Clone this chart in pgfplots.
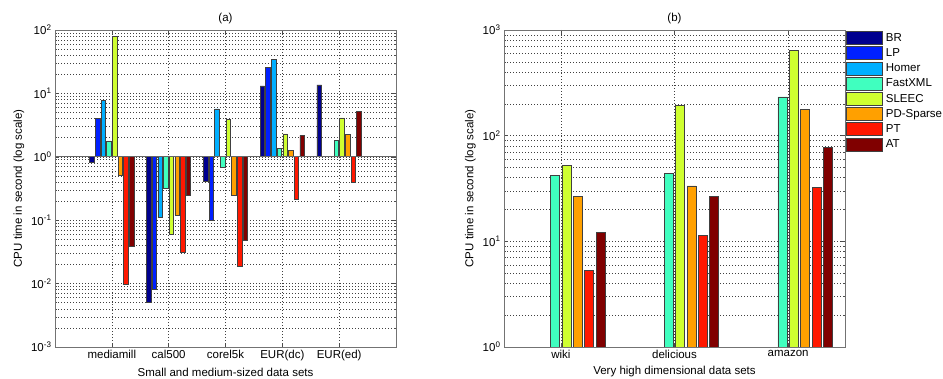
\documentclass[border=0pt]{standalone}
\usepackage{fontspec}
\setmainfont{Liberation Sans}
\usepackage{pgfplots}
\pgfplotsset{compat=1.18}
\definecolor{c1}{RGB}{0,0,143}
\definecolor{c2}{RGB}{0,32,255}
\definecolor{c3}{RGB}{0,175,255}
\definecolor{c4}{RGB}{64,255,191}
\definecolor{c5}{RGB}{207,255,48}
\definecolor{c6}{RGB}{255,160,0}
\definecolor{c7}{RGB}{255,24,0}
\definecolor{c8}{RGB}{128,0,0}
\newcommand\ff{\fontsize{11.5bp}{13.5bp}\selectfont}
\begin{document}
\begin{tikzpicture}
\path[use as bounding box] (0,0) rectangle (943bp,379bp);
\begin{axis}[at={(55bp,32bp)}, anchor=south west,
    scale only axis, width=341bp, height=317bp,
    ymode=log, log basis y=10,
    xmajorgrids, ymajorgrids, yminorgrids,
    major grid style={black!75, line width=0.5bp, dash pattern=on 0.8bp off 2.2bp},
    minor grid style={black!75, line width=0.5bp, dash pattern=on 0.8bp off 2.2bp},
    tick align=inside, major tick length=4bp, minor tick length=2.2bp,
    axis line style={black!55, line width=0.9bp},
    tick style={black!70, line width=0.5bp},
    tick label style={font=\ff}, label style={font=\ff}, title style={font=\ff, yshift=-3bp},
    yticklabel={10\textsuperscript{\pgfmathparse{int(round(\tick))}\pgfmathresult}},
    ylabel={CPU time in second (log scale)},
  xmin=0, xmax=6, ymin=1e-3, ymax=1e2,
  xtick={1,2,3,4,5}, xticklabels={mediamill,cal500,corel5k,EUR(dc),EUR(ed)},
  title={(a)}, xlabel={Small and medium-sized data sets}]
\addplot[ybar, bar width=0.08, draw=black!75, line width=0.7bp, fill=c1, bar shift=-0.35] coordinates {(1,0.83)(2,0.005)(3,0.41)(4,13.1)(5,13.6)};
\addplot[ybar, bar width=0.08, draw=black!75, line width=0.7bp, fill=c2, bar shift=-0.25] coordinates {(1,4.0)(2,0.0082)(3,0.1)(4,26)};
\addplot[ybar, bar width=0.08, draw=black!75, line width=0.7bp, fill=c3, bar shift=-0.15] coordinates {(1,7.7)(2,0.11)(3,5.7)(4,34.7)};
\addplot[ybar, bar width=0.08, draw=black!75, line width=0.7bp, fill=c4, bar shift=-0.05] coordinates {(1,1.78)(2,0.32)(3,0.69)(4,1.37)(5,1.84)};
\addplot[ybar, bar width=0.08, draw=black!75, line width=0.7bp, fill=c5, bar shift=0.05] coordinates {(1,78)(2,0.059)(3,3.9)(4,2.3)(5,4.1)};
\addplot[ybar, bar width=0.08, draw=black!75, line width=0.7bp, fill=c6, bar shift=0.15] coordinates {(1,0.51)(2,0.12)(3,0.25)(4,1.28)(5,2.26)};
\addplot[ybar, bar width=0.08, draw=black!75, line width=0.7bp, fill=c7, bar shift=0.25] coordinates {(1,0.0096)(2,0.031)(3,0.019)(4,0.21)(5,0.39)};
\addplot[ybar, bar width=0.08, draw=black!75, line width=0.7bp, fill=c8, bar shift=0.35] coordinates {(1,0.038)(2,0.25)(3,0.048)(4,2.18)(5,5.2)};
\addplot[black!60, line width=0.8bp, forget plot] coordinates {(0,1)(6,1)};
\end{axis}
\begin{axis}[at={(504bp,32bp)}, anchor=south west,
    scale only axis, width=341bp, height=317bp,
    ymode=log, log basis y=10,
    xmajorgrids, ymajorgrids, yminorgrids,
    major grid style={black!75, line width=0.5bp, dash pattern=on 0.8bp off 2.2bp},
    minor grid style={black!75, line width=0.5bp, dash pattern=on 0.8bp off 2.2bp},
    tick align=inside, major tick length=4bp, minor tick length=2.2bp,
    axis line style={black!55, line width=0.9bp},
    tick style={black!70, line width=0.5bp},
    tick label style={font=\ff}, label style={font=\ff}, title style={font=\ff, yshift=-3bp},
    yticklabel={10\textsuperscript{\pgfmathparse{int(round(\tick))}\pgfmathresult}},
    ylabel={CPU time in second (log scale)},
  xmin=0.5, xmax=3.5, ymin=1, ymax=1e3,
  xtick={1,2,3}, xticklabels={wiki,delicious,amazon},
  title={(b)}, xlabel={Very high dimensional data sets},
  legend image code/.code={\draw[#1, line width=0.7bp] (0bp,-6.5bp) rectangle (36bp,6.5bp); \path (38bp,0bp);},
  legend style={at={(1,1)}, anchor=north west, xshift=1bp, yshift=-1bp, draw=none, fill=none, font=\ff,
    inner sep=0pt, row sep=1.5bp, nodes={inner sep=1bp}, cells={anchor=west}}]
\addlegendimage{fill=c1, draw=black!75}
\addlegendimage{fill=c2, draw=black!75}
\addlegendimage{fill=c3, draw=black!75}
\addplot[ybar, bar width=0.08, draw=black!75, line width=0.7bp, fill=c4, bar shift=-0.05] coordinates {(1,42)(2,44)(3,233)};
\addplot[ybar, bar width=0.08, draw=black!75, line width=0.7bp, fill=c5, bar shift=0.05] coordinates {(1,52.6)(2,195)(3,635)};
\addplot[ybar, bar width=0.08, draw=black!75, line width=0.7bp, fill=c6, bar shift=0.15] coordinates {(1,26.7)(2,33.5)(3,178)};
\addplot[ybar, bar width=0.08, draw=black!75, line width=0.7bp, fill=c7, bar shift=0.25] coordinates {(1,5.3)(2,11.4)(3,32.5)};
\addplot[ybar, bar width=0.08, draw=black!75, line width=0.7bp, fill=c8, bar shift=0.35] coordinates {(1,12.1)(2,26.7)(3,76.7)};
\legend{BR,LP,Homer,FastXML,SLEEC,PD-Sparse,PT,AT}
\end{axis}
\end{tikzpicture}
\end{document}
